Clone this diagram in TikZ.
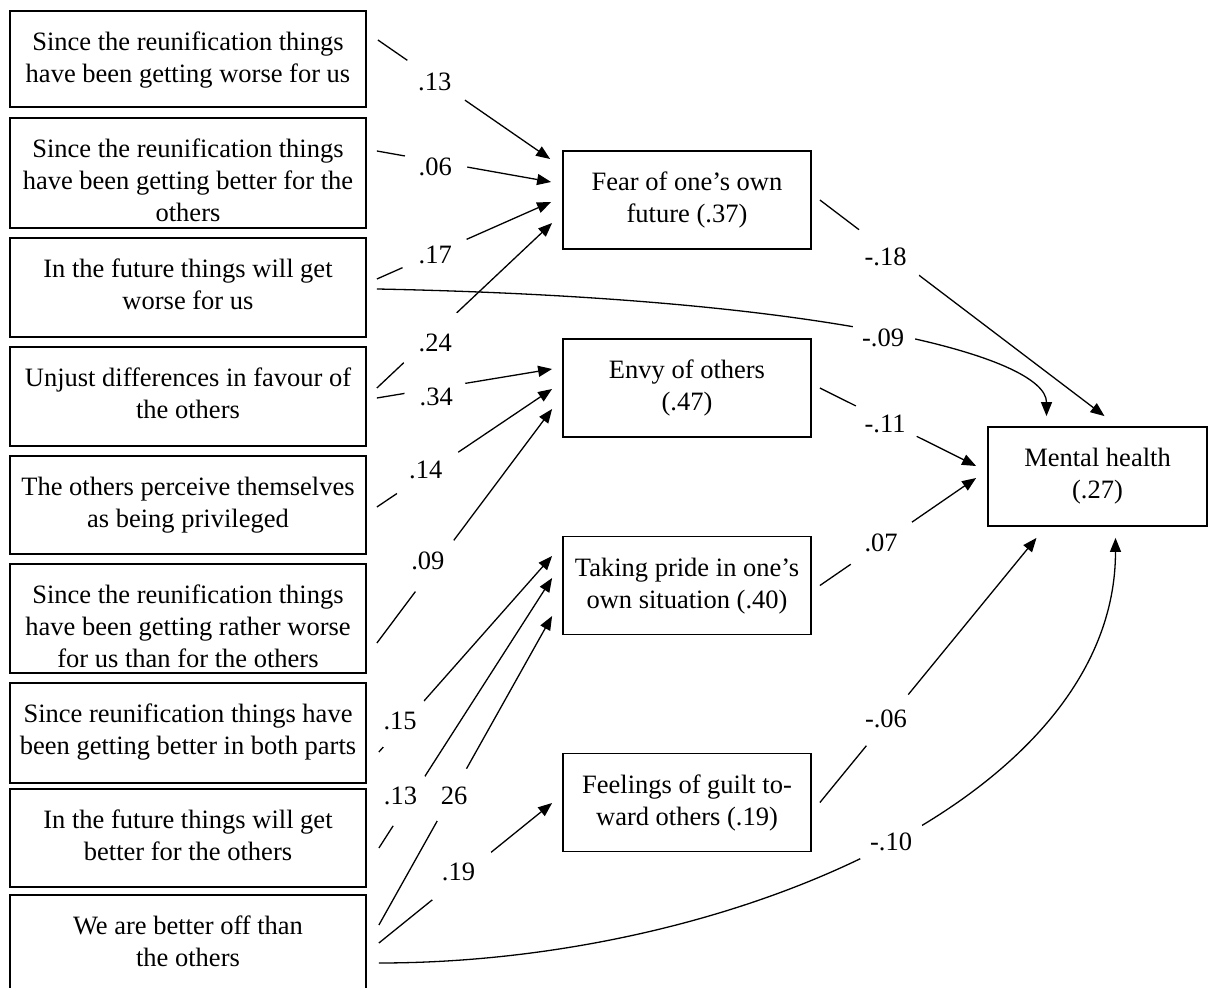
\documentclass[tikz,border=0pt]{standalone}
\usepackage{fontspec}
\setmainfont{Liberation Serif}
\usetikzlibrary{arrows.meta, calc}
\tikzset{>={Triangle[length=7pt,width=5.5pt]}}

\begin{document}
\begin{tikzpicture}[x=0.5pt, y=-0.5pt,
    box/.style={draw, line width=0.9pt, inner sep=0pt,
      font=\fontsize{13.25}{16}\selectfont},
    tbox/.style 2 args={box,
      execute at begin node={\begin{minipage}[c][#2][t]{#1}\centering\rule{0pt}{19.9pt}},
      execute at end node={\end{minipage}}},
    leftbox/.style={tbox={178pt}{#1}},
    midbox/.style={tbox={124pt}{49pt}},
    coef/.style={circle, fill=white, inner sep=0pt, minimum size=35pt,
      font=\fontsize{13.25}{16}\selectfont},
    arr/.style={->, line width=0.65pt}]
\useasboundingbox (0,0) rectangle (1210,988);

% predictors
\node[leftbox=48pt] (b1) at (188,59) {Since the reunification things\\have been getting worse for us};
\node[leftbox=55pt] (b2) at (188,173) {Since the reunification things\\have been getting better for the\\others};
\node[leftbox=49.5pt] (b3) at (188,287.5) {In the future things will get\\worse for us};
\node[leftbox=49.5pt] (b4) at (188,396.5) {Unjust differences in favour of\\the others};
\node[leftbox=49pt] (b5) at (188,505) {The others perceive themselves\\as being privileged};
\node[leftbox=54.5pt] (b6) at (188,618.5) {Since the reunification things\\have been getting rather worse\\for us than for the others};
\node[leftbox=50pt] (b7) at (188,733) {Since reunification things have\\been getting better in both parts};
\node[leftbox=49pt] (b8) at (188,838) {In the future things will get\\better for the others};
\node[leftbox=49.5pt] (b9) at (188,944.5) {We are better off than\\the others};

% mediators and outcome
\node[midbox] (fear) at (687,200) {Fear of one’s own\\future (.37)};
\node[midbox] (envy) at (687,388) {Envy of others\\(.47)};
\node[midbox] (pride) at (687,585.5) {Taking pride in one’s\\own situation (.40)};
\node[midbox] (guilt) at (687,802.5) {Feelings of guilt to-\\ward others (.19)};
\node[tbox={109.5pt}{49.5pt}] (mh) at (1097.5,476.5) {Mental health\\(.27)};

% paths to the mediators
\draw[arr] ($(b1.east)+(11,-19)$) -- node[coef, pos=.33, yshift=-1.5pt] (k1) {.13} ($(fear.west)+(-12,-41)$);
\draw[arr] ($(b2.east)+(10,-22)$) -- node[coef, pos=.335, minimum size=32pt, yshift=-2.5pt] (k2) {.06} ($(fear.west)+(-11,-18)$);
\draw[arr] ($(b3.east)+(10,-8.5)$) -- node[coef, pos=.335, yshift=-1pt] (k3) {.17} ($(fear.west)+(-11,2)$);
\draw[arr] ($(b4.east)+(10,-8.5)$) -- node[coef, pos=.333, minimum size=37pt, yshift=-5pt] (k4) {.24} ($(fear.west)+(-10,23)$);
\draw[arr] ($(b4.east)+(10,1.5)$) -- node[coef, pos=.339, minimum size=32pt, yshift=-4.5pt] (k5) {.34} ($(envy.west)+(-10,-19)$);
\draw[arr] ($(b5.east)+(10,2)$) -- node[coef, pos=.33, minimum size=37pt, xshift=-4.5pt, yshift=-1pt] (k6) {.14} ($(envy.west)+(-10,1)$);
\draw[arr] ($(b6.east)+(10,24.5)$) -- node[coef, pos=.325, minimum size=33pt, xshift=-3pt, yshift=3pt] (k7) {.09} ($(envy.west)+(-10,21)$);
\draw[arr] ($(b7.east)+(12,19)$) -- node[coef, pos=.169, minimum size=31pt, xshift=-4pt, yshift=-1pt] (k8) {.15} ($(pride.west)+(-10,-29.5)$);
\draw[arr] ($(b8.east)+(12,10)$) -- node[coef, pos=.194, minimum size=31pt, xshift=-6pt] (k9) {.13} ($(pride.west)+(-10,-7.5)$);
\draw[arr] ($(b9.east)+(12,-19.5)$) -- node[coef, pos=.417, minimum size=30pt, xshift=1.5pt] (k10) {26} ($(pride.west)+(-10,30.5)$);
\draw[arr] ($(b9.east)+(12,-1.5)$) -- node[coef, pos=.506, minimum size=38pt, xshift=-4pt] (k11) {.19} ($(guilt.west)+(-10,.5)$);

% direct paths to mental health
\draw[arr] ($(b9.east)+(12,18.5)$) .. controls +(350,0) and +(0,260) .. node[coef, pos=.52, xshift=-2pt, yshift=-1.5pt] (k12) {-.10} ($(mh.south)+(18,11)$);
\draw[arr] ($(b3.east)+(10,1.5)$) .. controls +(450,9) and +(0,-60) .. node[coef, pos=.51, minimum size=32pt, xshift=-2pt, yshift=-1.5pt] (k13) {-.09} ($(mh.north)+(-51,-10)$);
\draw[arr] ($(fear.east)+(8,0)$) -- node[coef, pos=.245, minimum size=38pt, xshift=-2pt, yshift=-2pt] (k14) {-.18} ($(mh.north)+(7,-10)$);
\draw[arr] ($(envy.east)+(8,0)$) -- node[coef, pos=.443, minimum size=34pt, xshift=-2pt, yshift=-.5pt] (k15) {-.11} ($(mh.west)+(-11,-10.5)$);
\draw[arr] ($(pride.east)+(8,0)$) -- node[coef, pos=.443, minimum size=37pt, xshift=-4pt, yshift=-2.5pt] (k16) {.07} ($(mh.west)+(-11,1.5)$);
\draw[arr] ($(guilt.east)+(8,0)$) -- node[coef, pos=.319, minimum size=33pt, xshift=-1.5pt, yshift=-.5pt] (k17) {-.06} ($(mh.south)+(-61,11)$);
\end{tikzpicture}
\end{document}
